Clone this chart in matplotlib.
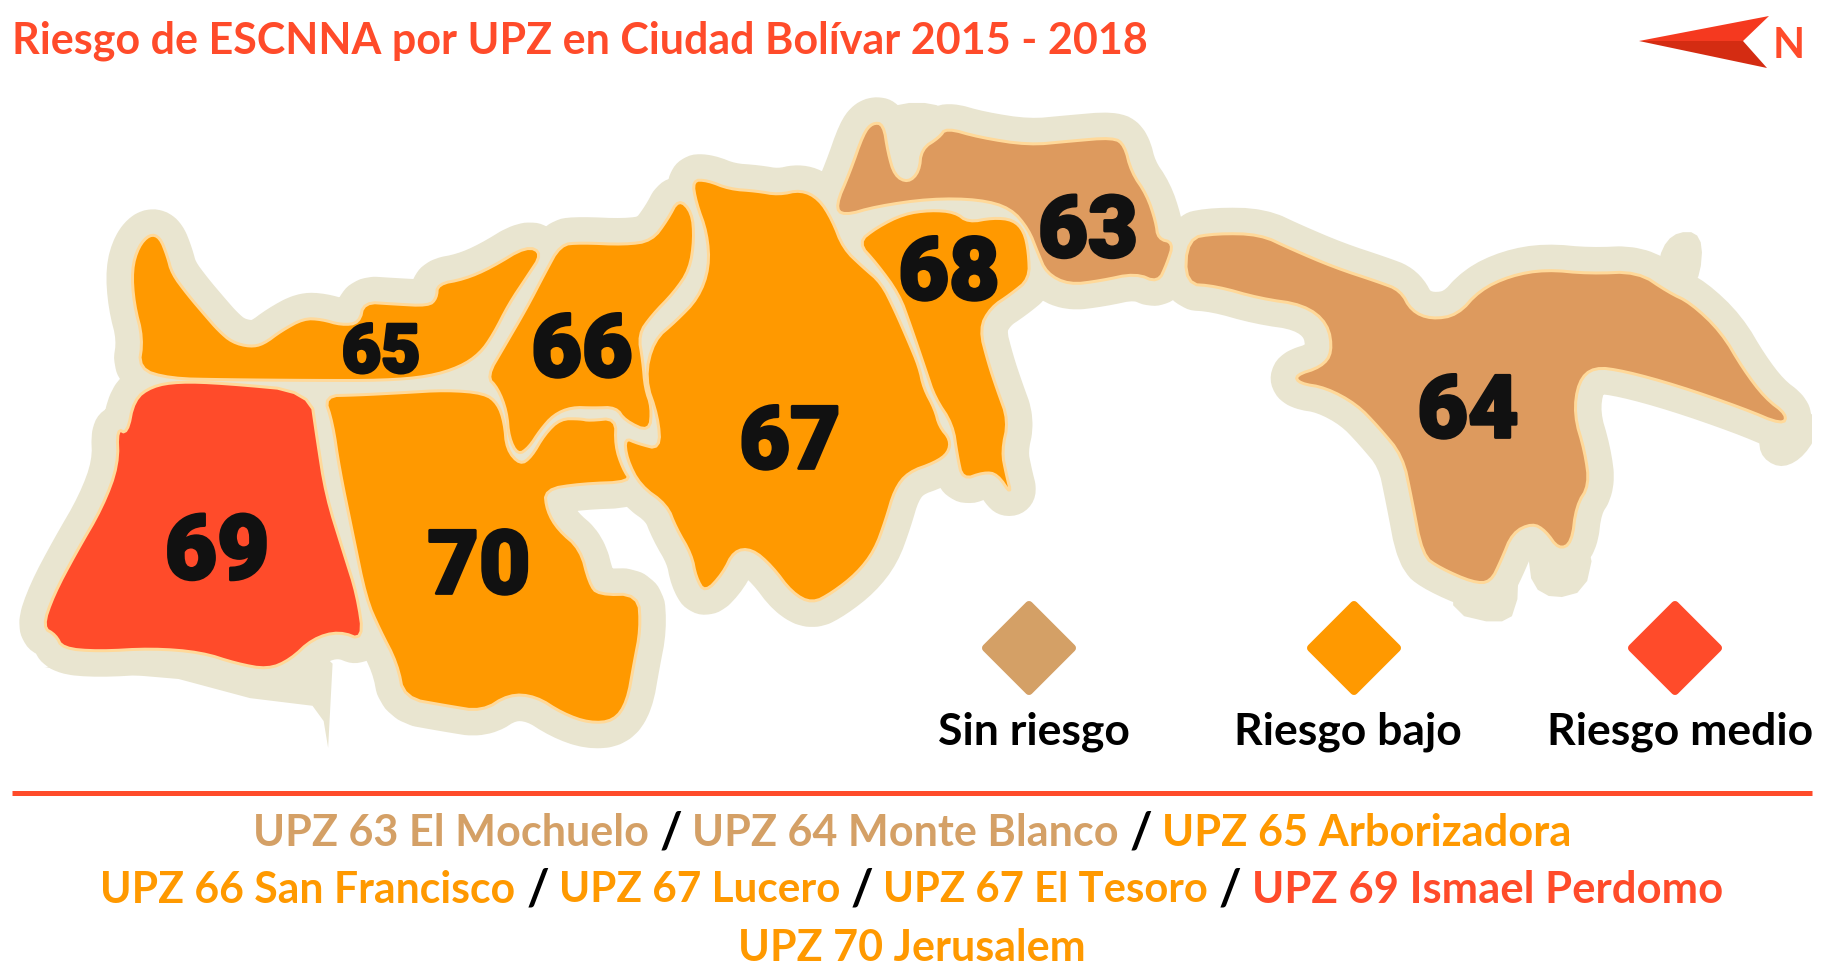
import numpy as np
import matplotlib
matplotlib.use("Agg")
from matplotlib import pyplot as plt
from matplotlib.patches import Polygon, Rectangle
import matplotlib.patheffects as pe

TAN = "#DD9A5E"
TAN_TEXT = "#D4A066"
ORANGE = "#FF9900"
RED = "#FF4B2A"
HALO = "#E9E5D0"
RIM = "#FFD99A"

title = "Riesgo de ESCNNA por UPZ en Ciudad Bolívar 2015 - 2018"

crop1 = (0, 170, 2.24, 2.613)
crop2 = (600, 80, 2.24, 2.613)
crop3 = (1150, 0, 2.276, 2.412)

upz65 = [(310,200),(335,168),(358,175),(375,225),(385,270),(420,325),(460,380),(490,420),(520,450),(560,462),
         (590,455),(630,420),(680,388),(720,390),(765,405),(805,400),(815,345),(880,350),(960,355),(978,335),
         (980,298),(1040,285),(1100,255),(1180,198),(1215,218),(1180,280),(1140,350),(1105,430),(1075,480),
         (1030,515),(960,540),(860,550),(700,550),(500,548),(380,545),(310,520),(320,440),(300,350),(295,260)]
upz66 = [(1255,195),(1300,190),(1400,195),(1460,185),(1495,130),(1520,75),(1550,110),(1555,180),(1545,260),
         (1510,320),(1460,380),(1430,430),(1440,500),(1445,570),(1460,620),(1455,685),(1400,655),(1380,620),
         (1330,622),(1280,620),(1240,640),(1210,680),(1185,725),(1160,745),(1140,700),(1135,630),(1115,570),
         (1090,540),(1130,460),(1180,360),(1220,270)]
upz69 = [(300,600),(340,565),(400,553),(500,557),(695,578),(710,700),(730,850),(770,1000),(800,1110),(815,1230),
         (760,1205),(700,1225),(650,1280),(600,1305),(530,1290),(450,1260),(340,1250),(220,1258),(140,1250),
         (125,1215),(95,1195),(120,1110),(170,1000),(230,880),(265,770),(262,675),(285,690)]
upz70 = [(725,590),(800,588),(900,582),(1000,575),(1085,583),(1115,610),(1130,660),(1135,730),(1165,770),
         (1190,750),(1220,690),(1255,650),(1300,650),(1320,655),(1380,648),(1378,720),(1395,780),(1415,815),
         (1300,820),(1220,835),(1225,890),(1250,940),(1300,990),(1320,1080),(1340,1110),(1430,1108),(1435,1200),
         (1420,1290),(1405,1390),(1375,1440),(1320,1445),(1260,1420),(1200,1375),(1140,1370),(1080,1415),
         (1000,1400),(905,1380),(890,1290),(850,1200),(820,1120),(790,950),(760,780),(745,660)]
upz67 = [(207,262),(240,262),(290,285),(350,290),(400,300),(450,287),(490,310),(520,365),(545,440),(590,490),
         (630,530),(660,600),(690,680),(715,750),(725,805),(750,860),(760,905),(785,940),(780,975),(750,1000),
         (690,1025),(660,1070),(640,1150),(615,1230),(575,1290),(520,1340),(475,1368),(430,1340),(385,1270),
         (340,1225),(300,1230),(275,1290),(235,1340),(215,1300),(205,1240),(170,1170),(150,1110),(90,1060),
         (60,990),(55,935),(85,950),(135,965),(130,880),(100,780),(120,680),(170,630),(220,570),(245,490),
         (240,400),(215,320)]
upz68 = [(577,425),(620,385),(680,350),(740,340),(795,345),(825,372),(880,360),(925,365),(950,395),(960,450),
         (962,520),(920,560),(875,595),(850,650),(870,740),(890,810),(915,890),(900,970),(910,1030),(922,1085),
         (890,1030),(860,1025),(812,1045),(800,980),(790,900),(750,830),(730,760),(695,640),(670,560),(620,480)]
upz63 = [(527,330),(560,240),(590,140),(610,112),(635,115),(645,190),(660,250),(690,268),(715,240),(720,180),
         (760,150),(775,125),(850,150),(960,170),(1050,160),(1150,150),(1175,170),(1190,240),(1225,300),
         (1245,370),(1250,415),(1285,425),(1270,480),(1250,530),(1200,505),(1120,525),(1050,535),(1000,505),
         (980,450),(960,390),(920,335),(850,312),(740,310),(620,330),(545,355)]
upz64 = [(85,575),(150,563),(250,565),(320,600),(420,645),(520,680),(570,700),(595,750),(640,770),(700,760),
         (750,700),(820,665),(900,650),(1000,660),(1110,655),(1180,705),(1230,730),(1300,800),(1350,890),
         (1400,960),(1450,1000),(1440,1025),(1350,985),(1200,930),(1080,895),(1010,885),(975,920),(965,1000),
         (990,1090),(1000,1170),(970,1220),(960,1310),(930,1325),(900,1280),(870,1262),(825,1285),(800,1350),
         (775,1405),(735,1405),(660,1370),(620,1340),(595,1200),(575,1100),(520,1030),(470,975),(400,935),
         (340,925),(330,905),(390,885),(415,850),(405,780),(350,735),(250,720),(150,690),(80,685)]

# bits of the pale border that stick out past the even outline
halo_tail = [(1390,1030),(1520,985),(1520,1050),(1480,1110),(1430,1130),(1385,1095)]
halo_spur = [(1150,640),(1185,560),(1260,560),(1250,690),(1190,700)]
halo_lobes = [(800,1290),(960,1290),(1010,1330),(990,1425),(920,1445),(870,1415),(860,1335),(840,1340),
              (835,1480),(790,1505),(690,1480),(690,1400)]
halo_spike = [(100,1300),(400,1330),(560,1380),(700,1400),(725,1440),(735,1510),(745,1290),(700,1240)]
halo_notch = [(640,60),(780,60),(780,150),(720,250),(660,250),(640,150)]

zones = [
    (upz65, crop1, ORANGE), (upz66, crop1, ORANGE), (upz69, crop1, RED), (upz70, crop1, ORANGE),
    (upz67, crop2, ORANGE), (upz68, crop2, ORANGE), (upz63, crop2, TAN), (upz64, crop3, TAN),
]
halo_bits = [(halo_tail, crop3, 2), (halo_spur, crop3, 2), (halo_lobes, crop3, 1), (halo_spike, crop1, 0),
             (halo_notch, crop2, 2)]

zone_labels = ["65", "66", "67", "68", "63", "64", "69", "70"]
label_x = [381, 582, 790, 949, 1088, 1468, 217, 479]
label_y = [347, 344, 436, 267, 225, 405, 545, 560]
label_size = [49, 63, 63, 63, 62, 63, 65, 64]

legend_names = ["Sin riesgo", "Riesgo bajo", "Riesgo medio"]
legend_colors = [TAN_TEXT, ORANGE, RED]
legend_x = [1029, 1354, 1675]
legend_text_x = [1034, 1348, 1680]

names_line1 = ["UPZ 63 El Mochuelo", "/", "UPZ 64 Monte Blanco", "/", "UPZ 65 Arborizadora"]
colors_line1 = [TAN_TEXT, "black", TAN_TEXT, "black", ORANGE]
left_line1 = [253, 660, 692, 1130, 1162]
sizes_line1 = [31.1, 35, 31.1, 35, 31.2]
names_line2 = ["UPZ 66 San Francisco", "/", "UPZ 67 Lucero", "/", "UPZ 67 El Tesoro", "/", "UPZ 69 Ismael Perdomo"]
colors_line2 = [ORANGE, "black", ORANGE, "black", ORANGE, "black", RED]
left_line2 = [100, 527, 559, 851, 883, 1219, 1252]
sizes_line2 = [30.8, 35, 30.4, 35, 30.1, 35, 31.4]
names_line3 = ["UPZ 70 Jerusalem"]
colors_line3 = [ORANGE]
left_line3 = [738]
sizes_line3 = [31.0]


def smooth(pts, n=2):
    # corner cutting, keeps the traced outlines from looking faceted
    p = np.asarray(pts, float)
    for _ in range(n):
        q = np.roll(p, -1, axis=0)
        p = np.column_stack([0.75 * p + 0.25 * q, 0.25 * p + 0.75 * q]).reshape(-1, 2)
    return p


def to_px(pts, crop):
    x0, y0, kx, ky = crop
    return np.asarray(pts, float) / [kx, ky] + [x0, y0]


fig = plt.figure(figsize=(18.39, 9.72), dpi=100)
ax = fig.add_axes([0, 0, 1, 1])
ax.set_xlim(0, 1839)
ax.set_ylim(972, 0)
ax.axis("off")
px = 0.72  # points per pixel

clip = Rectangle((0, 0), 1812, 972, transform=ax.transData)
for pts, crop, color in zones:
    shape = smooth(to_px(pts, crop))
    halo = Polygon(shape, closed=True, fc=HALO, ec=HALO, lw=52 * px, joinstyle="round", zorder=1)
    ax.add_patch(halo)
    halo.set_clip_path(clip)
for pts, crop, n in halo_bits:
    bit = Polygon(smooth(to_px(pts, crop), n), closed=True, fc=HALO, ec="none", zorder=1)
    ax.add_patch(bit)
    bit.set_clip_path(clip)
for pts, crop, color in zones:
    shape = smooth(to_px(pts, crop))
    ax.add_patch(Polygon(shape, closed=True, fc=color, ec=RIM, lw=3 * px, joinstyle="round", zorder=2))

for lab, x, y, s in zip(zone_labels, label_x, label_y, label_size):
    ax.text(x, y, lab, fontsize=s, family="Roboto", weight=900, color="#111111", ha="center",
            va="center_baseline", zorder=3,
            path_effects=[pe.withStroke(linewidth=2, foreground="#111111")])

ax.text(12, 41, title, fontsize=31, family="Lato", weight="bold", color=RED, ha="left", va="center")

# north arrow
ax.add_patch(Polygon([(1639, 41), (1769, 16), (1743, 41)], closed=True, fc="#F5391F", ec="none", zorder=3))
ax.add_patch(Polygon([(1639, 41), (1743, 41), (1767, 68)], closed=True, fc="#D42C12", ec="none", zorder=3))
ax.text(1789, 46, "N", fontsize=30, family="Lato", weight="bold", color=RED, ha="center", va="center")

# legend
for name, col, x, tx in zip(legend_names, legend_colors, legend_x, legend_text_x):
    r = 43
    ax.add_patch(Polygon([(x - r, 648), (x, 648 - r), (x + r, 648), (x, 648 + r)], closed=True,
                         fc=col, ec=col, lw=8 * px, joinstyle="round", zorder=3))
    ax.text(tx, 732, name, fontsize=32, family="Lato", weight="bold", color="black", ha="center", va="center")

ax.plot([12, 1812], [793, 793], color=RED, lw=5 * px, solid_capstyle="butt")

for names, cols, lefts, sizes, y in [(names_line1, colors_line1, left_line1, sizes_line1, 833),
                                     (names_line2, colors_line2, left_line2, sizes_line2, 890),
                                     (names_line3, colors_line3, left_line3, sizes_line3, 948)]:
    for name, col, x, s in zip(names, cols, lefts, sizes):
        ax.text(x, y, name, fontsize=s, family="Lato", weight="bold", color=col, ha="left", va="center")

fig.savefig("out.png", dpi=100)
